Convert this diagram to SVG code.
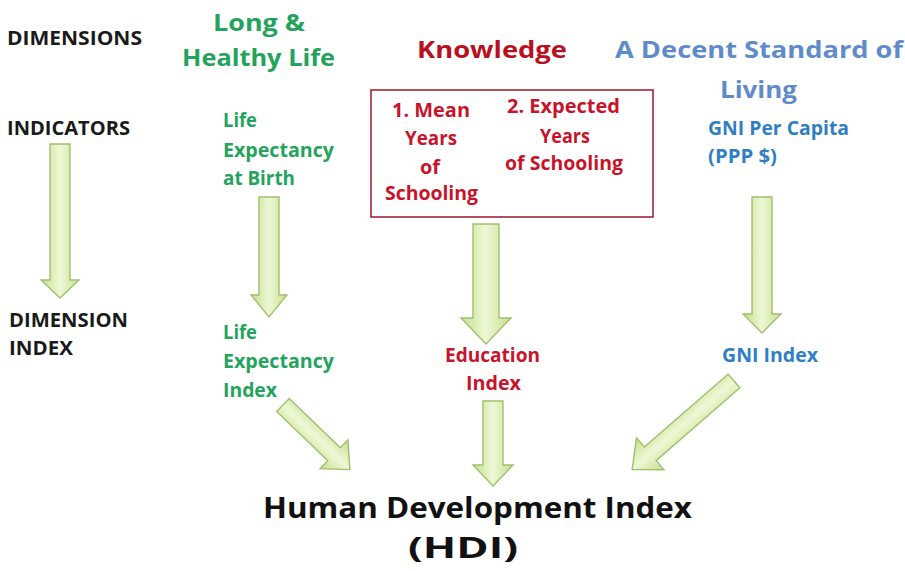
<svg xmlns="http://www.w3.org/2000/svg" width="905" height="571" viewBox="0 0 905 571">
<style>
text{font-family:"Open Sans","Liberation Sans",sans-serif;font-weight:700}
.lbl{font-size:19px;fill:#1a1a1a}
.head{font-size:24px}
.sub{font-size:19px}
.green{fill:#23a35c}
.red{fill:#c8142a}
.dred{fill:#b8101f}
.lblue{fill:#5f8bcb}
.blue{fill:#2f7fc2}
.hdi{font-size:29px;fill:#111}
.arrow{fill:url(#ag);stroke:#a3bf6e;stroke-width:1.4;stroke-linejoin:miter}
</style>
<defs>
<linearGradient id="ag" x1="0" y1="0" x2="1" y2="0">
<stop offset="0" stop-color="#c5df8c"/>
<stop offset="0.5" stop-color="#eef8d6"/>
<stop offset="1" stop-color="#c5df8c"/>
</linearGradient>
</defs>
<rect width="905" height="571" fill="#ffffff"/>

<g id="row-labels">
<text class="lbl" x="7" y="45" textLength="135" lengthAdjust="spacingAndGlyphs">DIMENSIONS</text>
<text class="lbl" x="7" y="135" textLength="123" lengthAdjust="spacingAndGlyphs">INDICATORS</text>
<text class="lbl" x="9" y="327" textLength="119" lengthAdjust="spacingAndGlyphs">DIMENSION</text>
<text class="lbl" x="9" y="355" textLength="64" lengthAdjust="spacingAndGlyphs">INDEX</text>
</g>

<g id="dim-health">
<text class="head green" x="213" y="31" textLength="92" lengthAdjust="spacingAndGlyphs">Long &amp;</text>
<text class="head green" x="182" y="66" textLength="153" lengthAdjust="spacingAndGlyphs">Healthy Life</text>
</g>
<g id="dim-knowledge">
<text class="head dred" x="417" y="58" textLength="150" lengthAdjust="spacingAndGlyphs">Knowledge</text>
</g>
<g id="dim-living">
<text class="head lblue" x="615" y="58" textLength="288" lengthAdjust="spacingAndGlyphs">A Decent Standard of</text>
<text class="head lblue" x="720" y="98" textLength="77" lengthAdjust="spacingAndGlyphs">Living</text>
</g>

<g id="ind-life">
<text class="sub green" x="223" y="127" textLength="34" lengthAdjust="spacingAndGlyphs">Life</text>
<text class="sub green" x="223" y="157" textLength="111" lengthAdjust="spacingAndGlyphs">Expectancy</text>
<text class="sub green" x="223" y="185" textLength="72" lengthAdjust="spacingAndGlyphs">at Birth</text>
</g>
<g id="ind-schooling">
<rect x="371" y="90" width="282" height="127" fill="none" stroke="#a32536" stroke-width="1.6"/>
<text class="sub red" x="392" y="117" textLength="78" lengthAdjust="spacingAndGlyphs">1. Mean</text>
<text class="sub red" x="405" y="145" textLength="52" lengthAdjust="spacingAndGlyphs">Years</text>
<text class="sub red" x="420" y="174" textLength="20" lengthAdjust="spacingAndGlyphs">of</text>
<text class="sub red" x="385" y="200" textLength="93" lengthAdjust="spacingAndGlyphs">Schooling</text>
<text class="sub red" x="507" y="113" textLength="113" lengthAdjust="spacingAndGlyphs">2. Expected</text>
<text class="sub red" x="540" y="143" textLength="50" lengthAdjust="spacingAndGlyphs">Years</text>
<text class="sub red" x="505" y="170" textLength="118" lengthAdjust="spacingAndGlyphs">of Schooling</text>
</g>
<g id="ind-gni">
<text class="sub blue" x="708" y="135" textLength="141" lengthAdjust="spacingAndGlyphs">GNI Per Capita</text>
<text class="sub blue" x="708" y="163" textLength="69" lengthAdjust="spacingAndGlyphs">(PPP  $)</text>
</g>

<g id="idx-life">
<text class="sub green" x="223" y="339" textLength="34" lengthAdjust="spacingAndGlyphs">Life</text>
<text class="sub green" x="223" y="368" textLength="111" lengthAdjust="spacingAndGlyphs">Expectancy</text>
<text class="sub green" x="223" y="397" textLength="54" lengthAdjust="spacingAndGlyphs">Index</text>
</g>
<g id="idx-education">
<text class="sub red" x="445" y="362" textLength="95" lengthAdjust="spacingAndGlyphs">Education</text>
<text class="sub red" x="466" y="390" textLength="55" lengthAdjust="spacingAndGlyphs">Index</text>
</g>
<g id="idx-gni">
<text class="sub blue" x="722" y="362" textLength="96" lengthAdjust="spacingAndGlyphs">GNI Index</text>
</g>

<g id="hdi">
<text class="hdi" x="263" y="518" textLength="429" lengthAdjust="spacingAndGlyphs">Human Development Index</text>
<text class="hdi" x="408" y="558" textLength="110" lengthAdjust="spacingAndGlyphs">(HDI)</text>
</g>

<g id="connectors">
<path class="arrow" d="M50,144 H70 V280 H79 L60,298 L41,280 H50 Z"/>
<path class="arrow" d="M259,197 H279 V295 H287 L269,317 L251,295 H259 Z"/>
<path class="arrow" d="M473,224 H499 V318 H511 L486,344 L461,318 H473 Z"/>
<path class="arrow" d="M752,197 H772 V314 H781 L762,333 L743,314 H752 Z"/>
<path class="arrow" d="M483,401 H503 V465 H513 L493,486 L473,465 H483 Z"/>
<path class="arrow" transform="translate(283,405) rotate(-46)" d="M-9,0 H9 V71 H20 L0,93 L-20,71 H-9 Z"/>
<path class="arrow" transform="translate(734,381) rotate(49)" d="M-9,0 H9 V111 H21 L0,135 L-21,111 H-9 Z"/>
</g>
</svg>
